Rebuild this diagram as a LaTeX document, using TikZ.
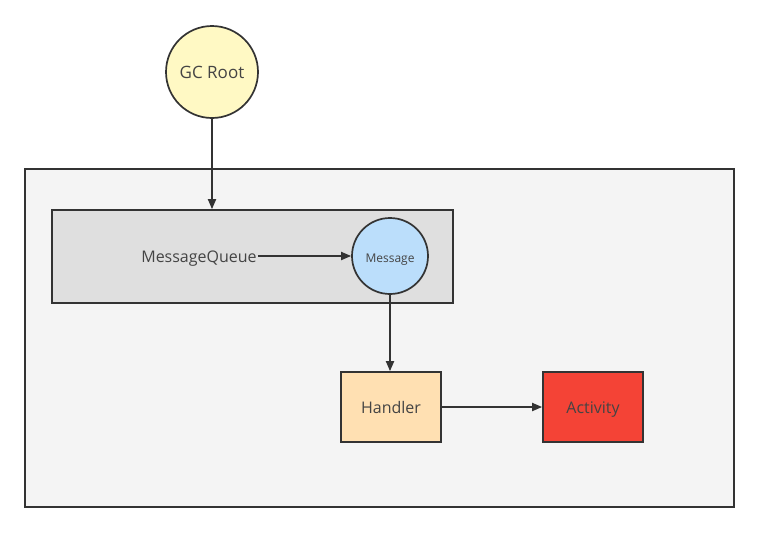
\documentclass[tikz,border=0pt]{standalone}
\usepackage{fontspec}
\setmainfont{Open Sans}
\usetikzlibrary{arrows.meta}
\definecolor{edge}{HTML}{333333}
\definecolor{txt}{HTML}{444444}
\definecolor{rootfill}{HTML}{FFF9C4}
\definecolor{outerfill}{HTML}{F4F4F4}
\definecolor{queuefill}{HTML}{DFDFDF}
\definecolor{msgfill}{HTML}{BBDEFB}
\definecolor{handlerfill}{HTML}{FFE0B2}
\definecolor{activityfill}{HTML}{F44336}
\tikzset{
  shape line/.style={draw=edge, line width=1.7pt},
  label text/.style={text=txt, text height=1.2em, text depth=0pt},
  box/.style={shape line, rectangle, inner sep=0pt, label text},
  ball/.style={shape line, circle, inner sep=0pt, label text},
  link/.style={draw=edge, line width=1.8pt, -{Triangle[length=10pt,width=8pt]}},
}
\begin{document}
\begin{tikzpicture}[x=1pt,y=-1pt]
  \useasboundingbox (0,0) rectangle (759,533);
  \fill[white] (0,0) rectangle (759,533);

  % containers
  \node[box, fill=outerfill, minimum width=709pt, minimum height=338pt] (outer) at (379.5,338) {};
  \node[box, fill=queuefill, minimum width=401pt, minimum height=93pt] (queue) at (252.5,256.5) {};

  % nodes
  \node[ball, fill=rootfill, minimum size=92pt, font=\fontsize{17}{20}\selectfont] (root) at (212,72) {GC Root};
  \node[label text, inner sep=1pt, font=\fontsize{16}{19}\selectfont] (mq) at (199,256) {MessageQueue};
  \node[ball, fill=msgfill, minimum size=76pt, font=\fontsize{12}{14}\selectfont] (msg) at (390,256) {Message};
  \node[box, fill=handlerfill, minimum width=100pt, minimum height=70pt, font=\fontsize{16}{19}\selectfont] (handler) at (391,407) {Handler};
  \node[box, fill=activityfill, minimum width=100pt, minimum height=70pt, font=\fontsize{16}{19}\selectfont] (activity) at (593,407) {Activity};

  % references
  \draw[link] (root.south) -- (queue.north -| root.south);
  \draw[link] (mq.east |- msg.west) -- (msg.west);
  \draw[link] (msg.south) -- (msg.south |- handler.north);
  \draw[link] (handler.east) -- (activity.west);
\end{tikzpicture}
\end{document}
